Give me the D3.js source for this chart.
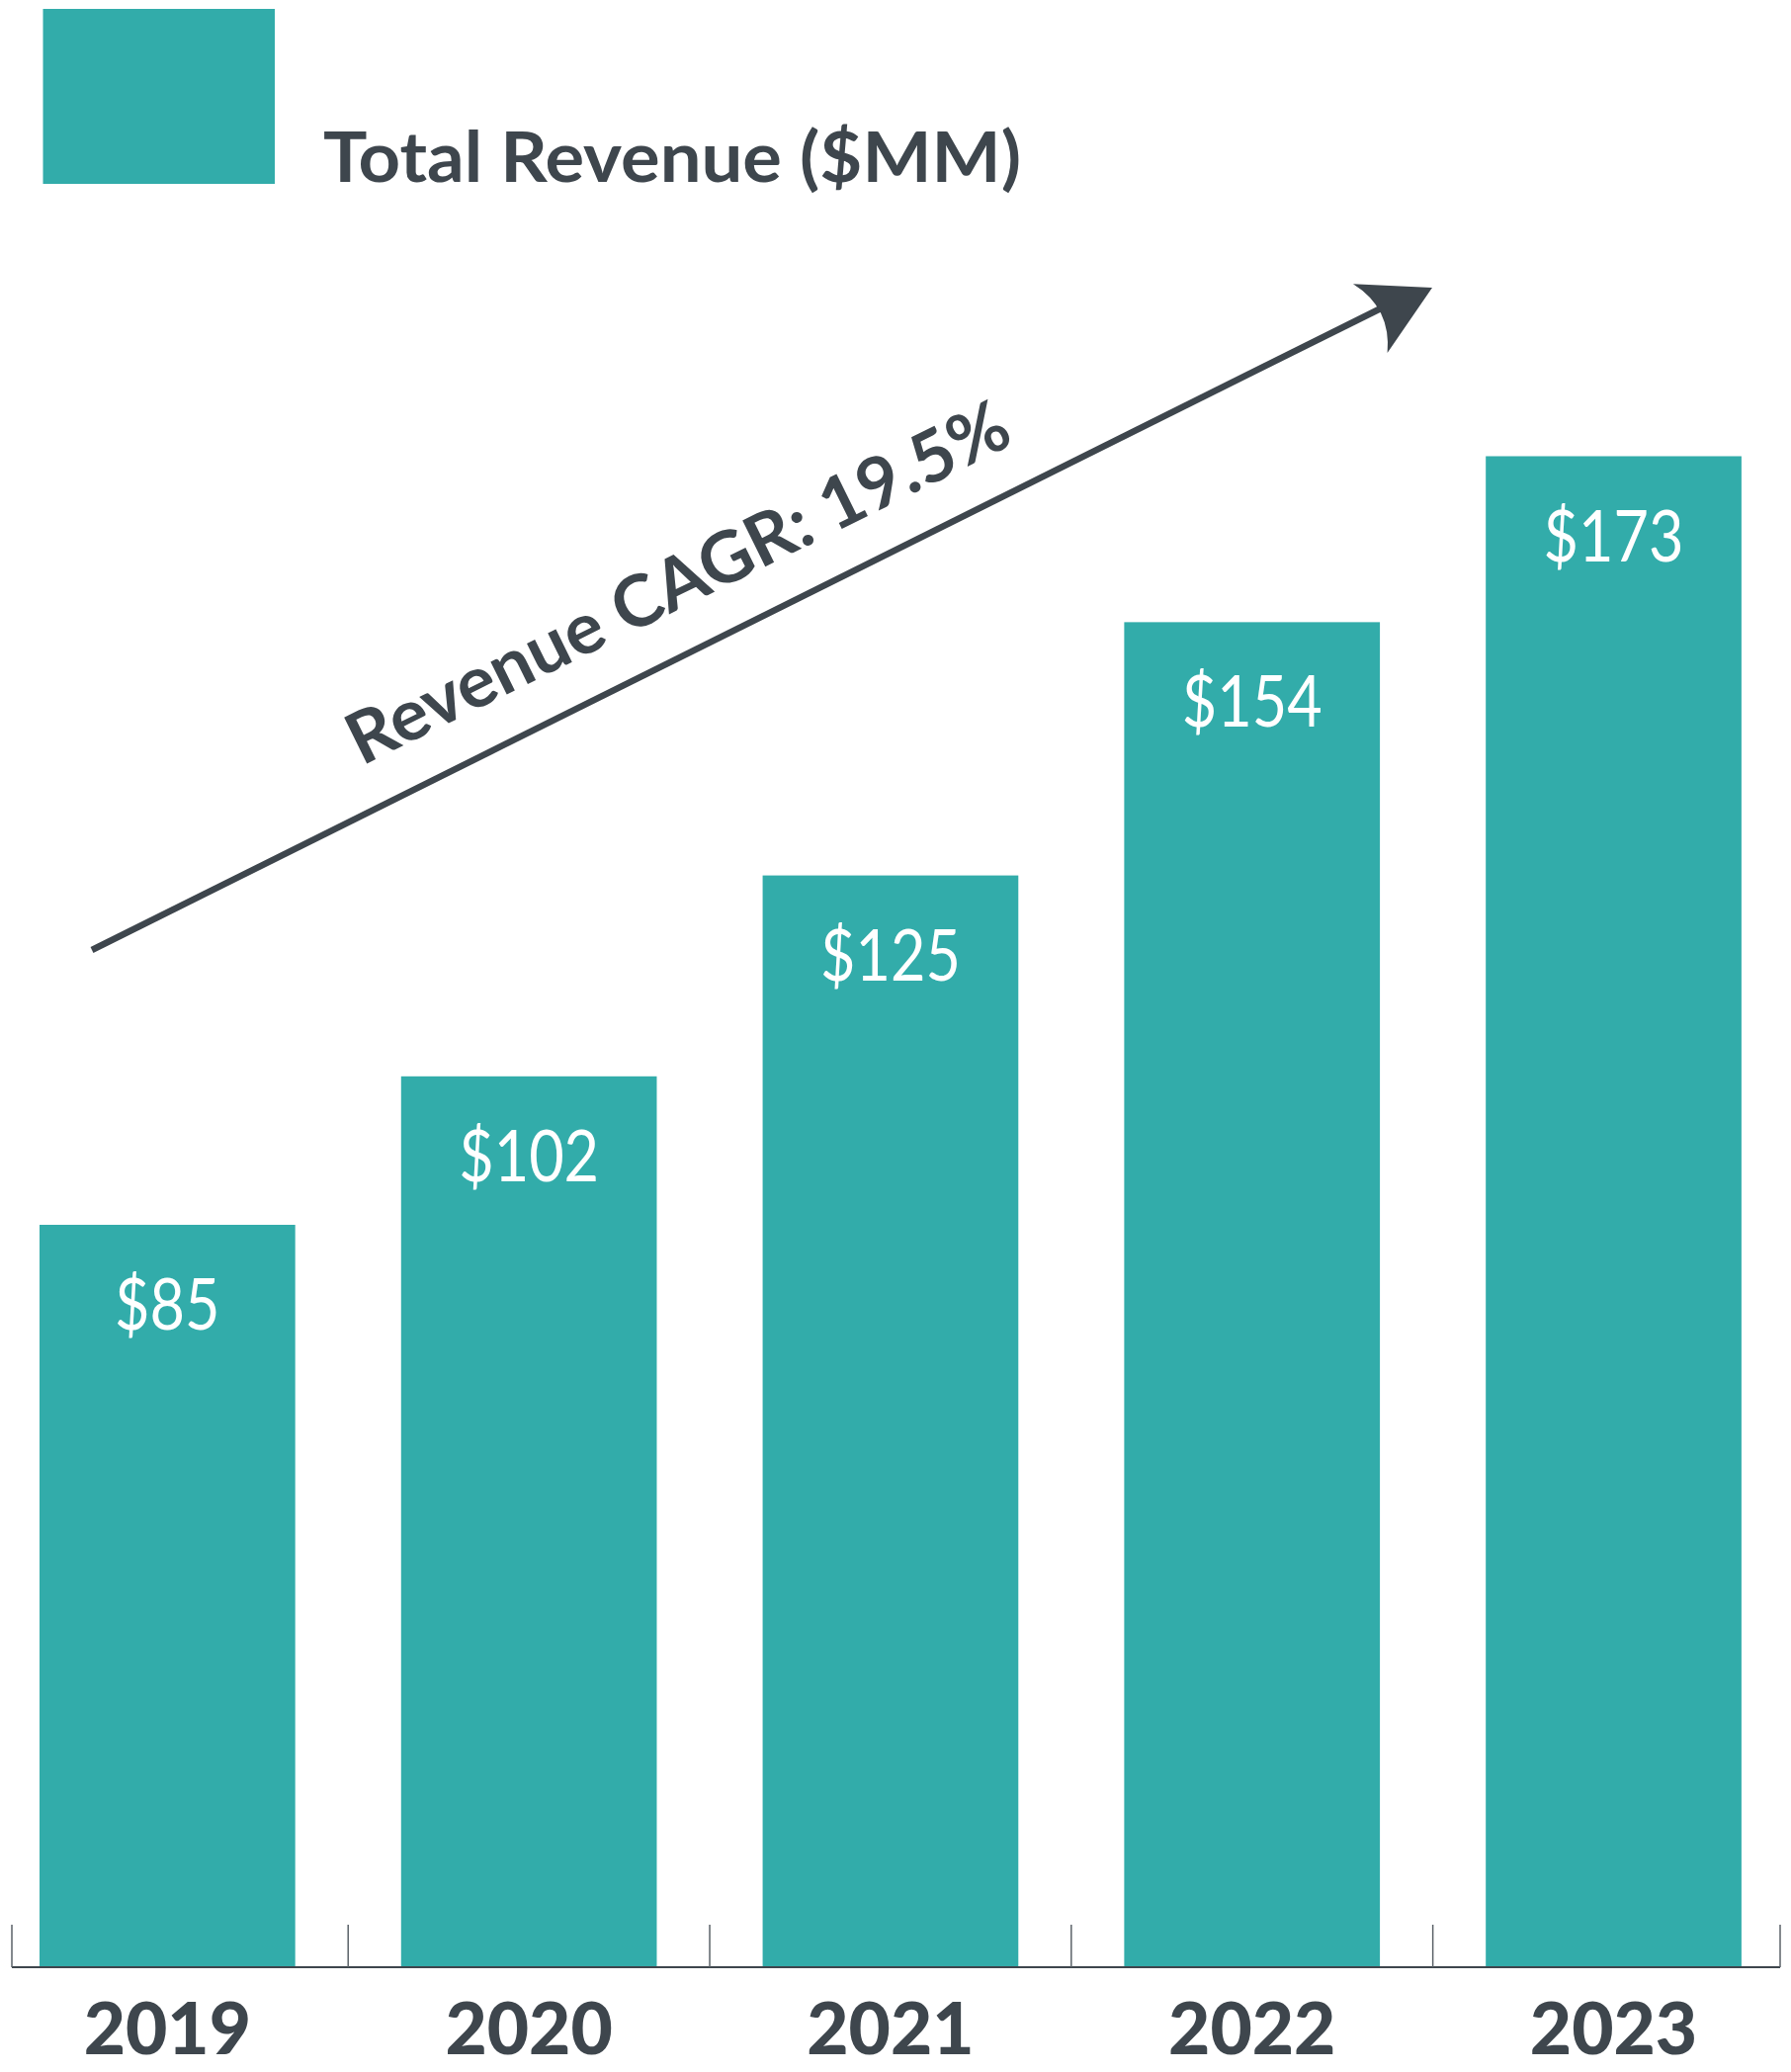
<!DOCTYPE html>
<html>
<head>
<meta charset="utf-8">
<script src="https://cdn.jsdelivr.net/npm/d3@7"></script>
<style>
  html, body { margin: 0; padding: 0; background: #fff; }
  svg { display: block; }
</style>
</head>
<body>
<svg id="chart" width="1812" height="2096"></svg>
<script>
// ---- data ----
const years = ['2019', '2020', '2021', '2022', '2023'];
const revenue = [85, 102, 125, 154, 173];
const legendLabel = 'Total Revenue ($MM)';
const cagrLabel = 'Revenue CAGR: 19.5%';

// ---- styles ----
const teal = '#32ACAA';
const dark = '#3E464D';

const svg = d3.select('#chart');
const baseY = 1990;

const data = years.map((y, i) => ({ year: y, value: revenue[i] }));

const x = d3.scaleBand()
  .domain(years)
  .range([12, 1801])
  .paddingInner(0.2928)
  .paddingOuter(0.0917)
  .align(0.417);

const y = d3.scaleLinear()
  .domain([0, d3.max(revenue)])
  .range([baseY, 461.5]);

// ---- legend ----
svg.append('rect')
  .attr('x', 43.5).attr('y', 9)
  .attr('width', 234.5).attr('height', 177)
  .attr('fill', teal);

svg.append('text')
  .attr('x', 327).attr('y', 184)
  .attr('font-family', 'Lato, sans-serif')
  .attr('font-weight', 700)
  .attr('font-size', 71)
  .attr('fill', dark)
  .attr('textLength', 706)
  .attr('lengthAdjust', 'spacingAndGlyphs')
  .text(legendLabel);

// ---- bars ----
svg.append('g').selectAll('rect')
  .data(data)
  .join('rect')
  .attr('x', d => x(d.year))
  .attr('y', d => y(d.value))
  .attr('width', x.bandwidth())
  .attr('height', d => baseY - y(d.value))
  .attr('fill', teal);

// ---- value labels ----
svg.append('g').selectAll('text')
  .data(data)
  .join('text')
  .attr('transform', d => `translate(${x(d.year) + x.bandwidth() / 2},${y(d.value) + 106}) scale(0.85,1)`)
  .attr('text-anchor', 'middle')
  .attr('font-family', 'Lato, sans-serif')
  .attr('font-weight', 400)
  .attr('font-size', 72)
  .attr('fill', '#ffffff')
  .text(d => '$' + d.value);

// ---- axis baseline + separator ticks ----
const step = x.step();
const gap = step * x.paddingInner();
const bounds = [x.range()[0]]
  .concat(years.slice(1).map(yr => x(yr) - gap / 2))
  .concat([x.range()[1]]);

svg.append('line')
  .attr('x1', x.range()[0]).attr('x2', x.range()[1])
  .attr('y1', baseY).attr('y2', baseY)
  .attr('stroke', dark).attr('stroke-width', 2);

svg.append('g').selectAll('line')
  .data(bounds)
  .join('line')
  .attr('x1', d => d).attr('x2', d => d)
  .attr('y1', baseY).attr('y2', baseY - 43)
  .attr('stroke', '#5b6268').attr('stroke-width', 1.5);

// ---- year labels (axis) ----
const axisG = svg.append('g')
  .attr('transform', `translate(0,${baseY})`)
  .call(d3.axisBottom(x).tickSize(0).tickPadding(0));
axisG.select('.domain').remove();
axisG.selectAll('text')
  .attr('y', 88).attr('dy', 0)
  .attr('font-family', 'Lato, sans-serif')
  .attr('font-weight', 900)
  .attr('font-size', 73)
  .attr('fill', dark);

// ---- CAGR arrow annotation ----
const angle = Math.atan2(961 - 313, 1395 - 93);
const tip = [1449, 291];
const headAngle = Math.atan2(291 - 322, 1449 - 1386.5) * 180 / Math.PI;

svg.append('line')
  .attr('x1', 93).attr('y1', 961)
  .attr('x2', 1400).attr('y2', 961 - (1400 - 93) * Math.tan(angle))
  .attr('stroke', dark).attr('stroke-width', 6.5);

svg.append('path')
  .attr('transform', `translate(${tip[0]},${tip[1]}) rotate(${headAngle})`)
  .attr('d', 'M0,0 L-70,-39 Q-46,0 -70,39 Z')
  .attr('fill', dark);

svg.append('text')
  .attr('transform', `translate(366,775) rotate(-26.3)`)
  .attr('font-family', 'Lato, sans-serif')
  .attr('font-weight', 700)
  .attr('font-size', 72)
  .attr('fill', dark)
  .attr('textLength', 738)
  .attr('lengthAdjust', 'spacingAndGlyphs')
  .text(cagrLabel);
</script>
</body>
</html>
